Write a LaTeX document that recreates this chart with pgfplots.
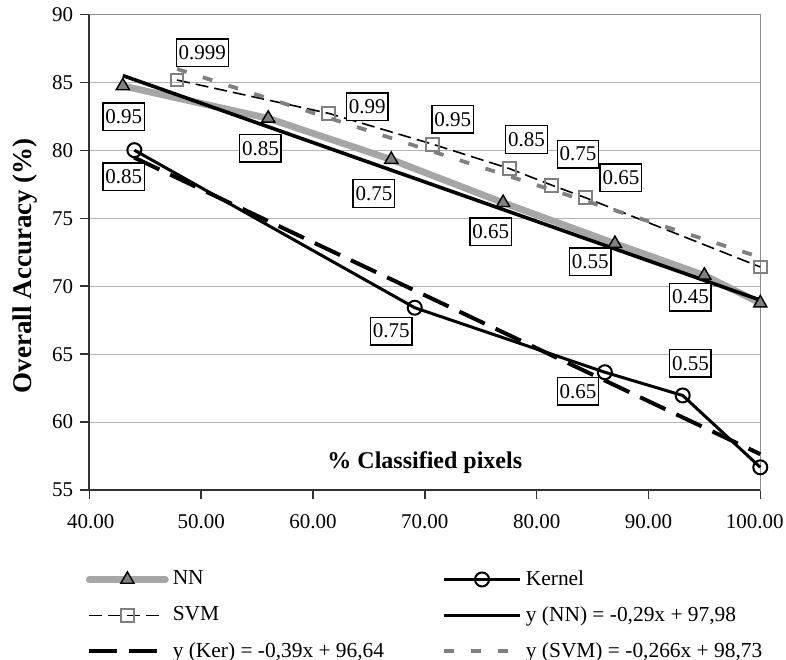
\documentclass[border=0pt]{standalone}
\usepackage{fontspec}
\setmainfont{Liberation Serif}
\usepackage{pgfplots}
\pgfplotsset{compat=1.18}
\definecolor{nngray}{RGB}{166,166,166}
\definecolor{svmgray}{RGB}{128,128,128}
\definecolor{trgray}{RGB}{128,128,128}
\definecolor{gridgray}{RGB}{180,180,180}
\definecolor{bordergray}{RGB}{140,140,140}
\begin{document}
\begin{tikzpicture}
\begin{axis}[
  scale only axis, width=335.5pt, height=237.7pt,
  xmin=40, xmax=100, ymin=55, ymax=90,
  xtick={40,50,...,100}, ytick={55,60,...,90},
  xticklabels={\hspace*{1.5pt}40.00,50.00,60.00,70.00,80.00,90.00,\hspace*{-5.5pt}100.00},
  /pgf/number format/assume math mode=true,
  xticklabel style={yshift=-4pt},
  ticklabel style={font=\fontsize{10.5pt}{12pt}\selectfont},
  tick align=outside, tick pos=left, major tick length=4.5pt,
  tick style={black!80, line width=0.8pt},
  axis line style={draw=bordergray, line width=0.7pt},
  ymajorgrids, grid style={gridgray, line width=0.5pt},
  clip=false,
  xlabel={\% Classified pixels},
  xlabel style={at={(axis description cs:0.5,0.058)}, anchor=center, font=\fontsize{12pt}{14pt}\selectfont\bfseries},
  ylabel={Overall Accuracy (\%)},
  ylabel style={at={(axis description cs:-0.096,0.472)}, anchor=center, font=\fontsize{13.5pt}{15pt}\selectfont\bfseries},
  legend columns=2,
  legend cell align=left,
  legend style={at={(axis description cs:0.502,-0.2636)}, anchor=center, draw=none, fill=none,
    font=\fontsize{10.7pt}{12pt}\selectfont, row sep=5pt,
    /tikz/every even column/.append style={column sep=27pt}},
  legend image code/.code={\draw[mark repeat=2,mark phase=2] plot coordinates {(0pt,0pt) (19pt,0pt) (38pt,0pt)};},
]
% NN
\addplot[nngray, line width=3.4pt, line cap=round, mark=triangle*, mark size=3.8pt,
  mark options={solid, fill=svmgray, draw=black, line width=0.7pt}]
  coordinates {(43,84.75) (56,82.36) (67,79.33) (77,76.15) (87,73.14) (95,70.8) (100,68.76)};
\addlegendentry{NN}
% Kernel
\addplot[black, line width=1.5pt, mark=o, mark size=3.5pt,
  mark options={solid, draw=black, line width=1pt}]
  coordinates {(44.03,80.02) (69.1,68.42) (86.1,63.67) (93.06,61.96) (100,56.67)};
\addlegendentry{Kernel}
% SVM
\addplot[black, line width=0.8pt, dash pattern=on 6.5pt off 3pt, mark=square, mark size=3.2pt,
  mark options={solid, draw=svmgray, line width=1pt}]
  coordinates {(47.85,85.18) (61.4,82.73) (70.7,80.46) (77.54,78.67) (81.36,77.44) (84.34,76.53) (100,71.42)};
\addlegendentry{SVM}
% trend NN
\addplot[black, line width=1.8pt] coordinates {(43,85.51) (100,68.98)};
\addlegendentry{y (NN) = -0,29x + 97,98}
% trend Kernel
\addplot[black, line width=2pt, dash pattern=on 14pt off 6pt] coordinates {(44,79.48) (100,57.64)};
\addlegendentry{y (Ker) = -0,39x + 96,64}
% trend SVM
\addplot[trgray, line width=1.9pt, dash pattern=on 5pt off 8.5pt] coordinates {(47.85,86.00) (100,72.13)};
\addlegendentry{y (SVM) = -0,266x + 98,73}

\draw[black!80, line width=1pt] (rel axis cs:0,1) -- (rel axis cs:0,0) -- (rel axis cs:1,0);

\tikzset{lab/.style={draw=black, line width=0.7pt, fill=white, inner xsep=1.2pt, inner ysep=0pt,
  minimum height=13.8pt, font=\fontsize{10.5pt}{12pt}\selectfont}}
% NN labels
\node[lab] at (axis cs:43.07,82.48) {0.95};
\node[lab] at (axis cs:55.3,80.15) {0.85};
\node[lab] at (axis cs:65.45,76.83) {0.75};
\node[lab] at (axis cs:75.9,74.0) {0.65};
\node[lab] at (axis cs:84.8,71.8) {0.55};
\node[lab] at (axis cs:93.75,69.2) {0.45};
% SVM labels
\node[lab] at (axis cs:50.1,87.2) {0.999};
\node[lab] at (axis cs:64.86,83.2) {0.99};
\node[lab] at (axis cs:72.5,82.3) {0.95};
\node[lab] at (axis cs:79.1,80.8) {0.85};
\node[lab] at (axis cs:83.7,79.73) {0.75};
\node[lab] at (axis cs:87.54,77.98) {0.65};
% Kernel labels
\node[lab] at (axis cs:43.07,78.05) {0.85};
\node[lab] at (axis cs:67.0,66.7) {0.75};
\node[lab] at (axis cs:83.7,62.27) {0.65};
\node[lab] at (axis cs:93.75,64.33) {0.55};
\end{axis}
\pgfresetboundingbox
\path (-44.65pt,-84.5pt) rectangle (348.35pt,245pt);
\end{tikzpicture}
\end{document}
